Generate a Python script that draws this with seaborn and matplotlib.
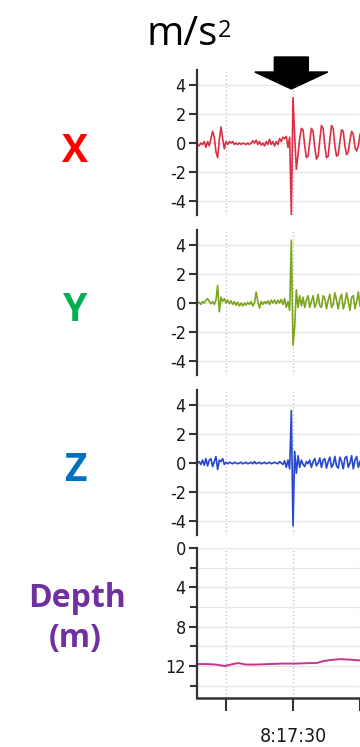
import os
import numpy as np
import pandas as pd
import matplotlib
matplotlib.use("Agg")
import matplotlib.pyplot as plt
import matplotlib.font_manager as fm
import seaborn as sns
from matplotlib.patches import Polygon
from matplotlib.transforms import blended_transform_factory

# ---- recorded data (time in seconds after 8:17:00) ----
T_START = 15.75
T_STEP = 0.25

acc_x = [
    -0.1, -0.2, 0.0, -0.1, 0.1, -0.3, 0.1, -0.2, 0.3, 0.8,
    0.4, -0.6, -1.0, 0.2, 1.1, 0.3, -0.4, 0.1, -0.1, 0.1,
    0.0, 0.1, -0.1, 0.0, -0.1, 0.0, -0.1, 0.0, -0.05, -0.1,
    0.0, -0.1, 0.0, 0.15, 0.0, 0.2, -0.1, 0.1, -0.15, 0.0,
    -0.2, 0.1, -0.1, 0.25, -0.1, 0.1, -0.2, 0.1, -0.1, 0.3,
    0.1, 0.4, 0.3, 0.45, -0.3, 0.4, -4.9, 3.1, 0.5, -1.8,
    -0.8, 0.3, 1.0, 0.9, -0.2, -1.0, -0.9, 0.1, 1.0, 0.8,
    -0.3, -1.1, -0.9, 0.2, 1.2, 1.0, -0.2, -1.0, -0.9, 0.2,
    1.2, 1.0, -0.2, -0.9, -0.8, 0.1, 0.9, 0.8, -0.2, -0.8,
    -0.6, 0.2, 0.8, 0.6, -0.3, -0.55, -0.2, 0.6, 0.8,
]

acc_y = [
    0.0, 0.05, -0.1, 0.1, 0.0, 0.2, 0.3, 0.1, -0.05, 0.1,
    -0.1, 0.2, 1.2, -0.6, 0.4, 0.1, 0.3, 0.0, 0.2, -0.05,
    0.15, -0.1, 0.1, -0.15, 0.05, -0.2, 0.0, -0.2, 0.0, -0.15,
    0.05, -0.1, 0.1, -0.2, 0.0, 0.75, 0.1, -0.35, 0.1, -0.1,
    0.1, -0.05, 0.15, -0.1, 0.2, 0.0, 0.2, -0.05, 0.2, 0.0,
    0.25, -0.1, 0.3, -0.3, 0.1, -0.5, 4.3, -2.9, -1.6, 0.9,
    -0.3, 0.5, -0.2, 0.4, -0.3, 0.2, 0.5, -0.3, 0.1, 0.5,
    -0.3, 0.0, 0.6, -0.2, -0.3, 0.5, 0.3, -0.4, 0.2, 0.6,
    -0.3, -0.1, 0.7, 0.2, -0.4, 0.3, 0.6, -0.4, 0.0, 0.7,
    0.1, -0.5, 0.4, 0.5, -0.4, 0.1, 0.75, -0.2, -0.3,
]

acc_z = [
    0.0, 0.1, -0.1, 0.2, -0.15, 0.3, -0.2, 0.2, 0.3, -0.25,
    0.1, 0.45, -0.45, 0.2, 0.1, 0.3, -0.1, 0.05, -0.05, 0.05,
    0.0, -0.05, 0.05, 0.0, -0.05, 0.0, 0.05, -0.05, 0.0, 0.05,
    -0.05, 0.0, 0.05, -0.05, 0.1, -0.05, 0.0, 0.05, -0.05, 0.0,
    0.05, -0.05, 0.0, 0.05, -0.05, 0.0, 0.05, 0.0, -0.05, 0.1,
    0.0, -0.1, 0.15, -0.3, 0.2, -0.4, 3.6, -4.3, 0.8, -0.7,
    0.5, -0.3, 0.2, -0.1, -0.25, 0.1, -0.05, 0.2, -0.3, 0.1,
    0.3, -0.2, 0.0, 0.35, -0.3, 0.2, 0.3, -0.35, 0.1, 0.4,
    -0.3, -0.1, 0.45, -0.2, -0.35, 0.4, 0.1, -0.4, 0.35, 0.45,
    -0.3, 0.0, 0.5, -0.4, 0.2, 0.45, -0.3, 0.1, 0.3,
]

depth_t = [15.7, 17.0, 18.5, 19.8, 21.0, 21.8, 23.0, 24.5, 26.5,
           28.5, 30.5, 32.5, 33.5, 34.5, 35.5, 37.0, 38.5, 40.3]
depth_m = [11.8, 11.8, 11.85, 12.0, 11.8, 11.7, 11.85, 11.85, 11.8,
           11.75, 11.75, 11.7, 11.7, 11.5, 11.4, 11.3, 11.35, 11.45]

acc_ticks = [-4, -2, 0, 2, 4]
depth_major = [0, 4, 8, 12]
depth_minor = [2, 6, 10, 14]
time_ticks = [20, 30, 40]
time_labels = ["", "8:17:30", ""]

channel_names = ["X", "Y", "Z"]
trace_colors = ["#dc2f45", "#7da51e", "#2647cf"]
name_colors = ["#ff0000", "#00b050", "#0070c0"]
depth_color = "#c8338e"
depth_label_color = "#7030a0"
event_time = 29.75

# ---- fonts ----
sns.set_style("white")
plt.rcParams["font.family"] = ["Liberation Sans", "DejaVu Sans"]
plt.rcParams["axes.unicode_minus"] = False


def narrow_font():
    """Pick a condensed sans face for the axis numbers if one is installed."""
    prefs = ["LiberationSansNarrow-Regular", "LiberationSansNarrow-Bold",
             "DejaVuSansCondensed.", "NotoSans-Condensed.",
             "NotoSans-CondensedMedium", "NotoSans-SemiCondensed.",
             "Roboto-Condensed", "RobotoCondensed-Regular",
             "OpenSans-CondensedRegular", "OpenSans_Condensed-Regular"]
    files = [f.fname for f in fm.fontManager.ttflist]
    for p in prefs:
        for fn in files:
            if os.path.basename(fn).startswith(p):
                return fm.FontProperties(fname=fn)
    for fn in files:
        b = os.path.basename(fn)
        if ("Condensed" in b or "Narrow" in b) and "Italic" not in b and "Bold" not in b:
            return fm.FontProperties(fname=fn)
    return fm.FontProperties(family="Liberation Sans")


tick_fp = narrow_font()

W, H = 360, 747
fig = plt.figure(figsize=(W / 100, H / 100), dpi=100)

t = T_START + T_STEP * np.arange(len(acc_x))
XLIM = (15.67, 40.3)
AX_LEFT, AX_RIGHT = 197, 362


def frame(top, bottom):
    return [AX_LEFT / W, 1 - bottom / H, (AX_RIGHT - AX_LEFT) / W, (bottom - top) / H]


spine_col = "#333333"


def base_style(ax):
    for s in ["top", "right", "bottom"]:
        ax.spines[s].set_visible(False)
    ax.spines["left"].set_color(spine_col)
    ax.spines["left"].set_linewidth(1.6)
    ax.set_xlim(*XLIM)
    ax.set_xticks(time_ticks)
    ax.grid(axis="x", ls=(0, (1, 2)), color="#bdbdbd", lw=0.9)
    ax.grid(axis="y", which="both", color="#e6e6e6", lw=0.9)
    ax.tick_params(axis="y", which="major", left=True, direction="out", length=6,
                   width=1.5, color=spine_col, pad=2, labelcolor="#1a1a1a")
    ax.set_xlabel("")
    ax.set_ylabel("")


def set_tick_font(labels, size):
    for lb in labels:
        lb.set_fontproperties(tick_fp)
        lb.set_fontsize(size)


panel_rows = [(70, 215), (230, 375), (390, 535)]
acc_axes = []
for vals, col, (top, bot) in zip([acc_x, acc_y, acc_z], trace_colors, panel_rows):
    ax = fig.add_axes(frame(top, bot))
    df = pd.DataFrame({"t": t, "a": vals})
    sns.lineplot(data=df, x="t", y="a", ax=ax, color=col, lw=1.2)
    ax.set_ylim(-4.93, 5.0)
    ax.set_yticks(acc_ticks)
    ax.set_yticklabels([str(v) for v in acc_ticks])
    base_style(ax)
    set_tick_font(ax.get_yticklabels(), 13)
    ax.tick_params(axis="x", bottom=False, labelbottom=False)
    acc_axes.append(ax)

# depth panel
axd = fig.add_axes(frame(548, 698))
ddf = pd.DataFrame({"t": depth_t, "d": depth_m})
sns.lineplot(data=ddf, x="t", y="d", ax=axd, color=depth_color, lw=1.4)
axd.set_ylim(15.25, 0)
axd.set_yticks(depth_major)
axd.set_yticklabels([str(v) for v in depth_major])
axd.set_yticks(depth_minor, minor=True)
base_style(axd)
set_tick_font(axd.get_yticklabels(), 13)
axd.spines["bottom"].set_visible(True)
axd.spines["bottom"].set_color(spine_col)
axd.spines["bottom"].set_linewidth(1.8)
axd.tick_params(axis="y", which="minor", left=True, direction="out", length=5,
                width=1.5, color=spine_col)
axd.set_xticklabels(time_labels)
axd.tick_params(axis="x", bottom=True, direction="out", length=9, width=1.5,
                color=spine_col, pad=12, labelcolor="#1a1a1a")
set_tick_font(axd.get_xticklabels(), 14)

# channel names on the left
label_font = ["Open Sans", "DejaVu Sans"]
for name, col, base in zip(channel_names, name_colors, [162, 321, 481]):
    fig.text(75 / W, 1 - base / H, name, color=col, fontsize=28,
             fontweight="bold", family=label_font, ha="center", va="baseline")
fig.text(77 / W, 1 - 607 / H, "Depth", color=depth_label_color, fontsize=23,
         fontweight="bold", family=label_font, ha="center", va="baseline")
fig.text(75 / W, 1 - 647 / H, "(m)", color=depth_label_color, fontsize=23,
         fontweight="bold", family=label_font, ha="center", va="baseline")

# unit above the plots
fig.text(146 / W, 1 - 45 / H, "m/s", color="black", fontsize=29,
         family=label_font, ha="left", va="baseline")
fig.text(218 / W, 1 - 37 / H, "2", color="black", fontsize=17,
         family=label_font, ha="left", va="baseline")

# event marker arrow
axx = acc_axes[0]
sec_per_px = (XLIM[1] - XLIM[0]) / (AX_RIGHT - AX_LEFT)
shaft = 17 * sec_per_px
head = 36.5 * sec_per_px
y_top, y_head, y_tip = 1 - 57 / H, 1 - 72 / H, 1 - 89 / H
arrow = Polygon(
    [(event_time - shaft, y_top), (event_time + shaft, y_top),
     (event_time + shaft, y_head), (event_time + head, y_head),
     (event_time, y_tip), (event_time - head, y_head),
     (event_time - shaft, y_head)],
    closed=True, facecolor="black", edgecolor="black",
    transform=blended_transform_factory(axx.transData, fig.transFigure),
    clip_on=False, zorder=10)
fig.add_artist(arrow)

fig.savefig("out.png", dpi=100)
